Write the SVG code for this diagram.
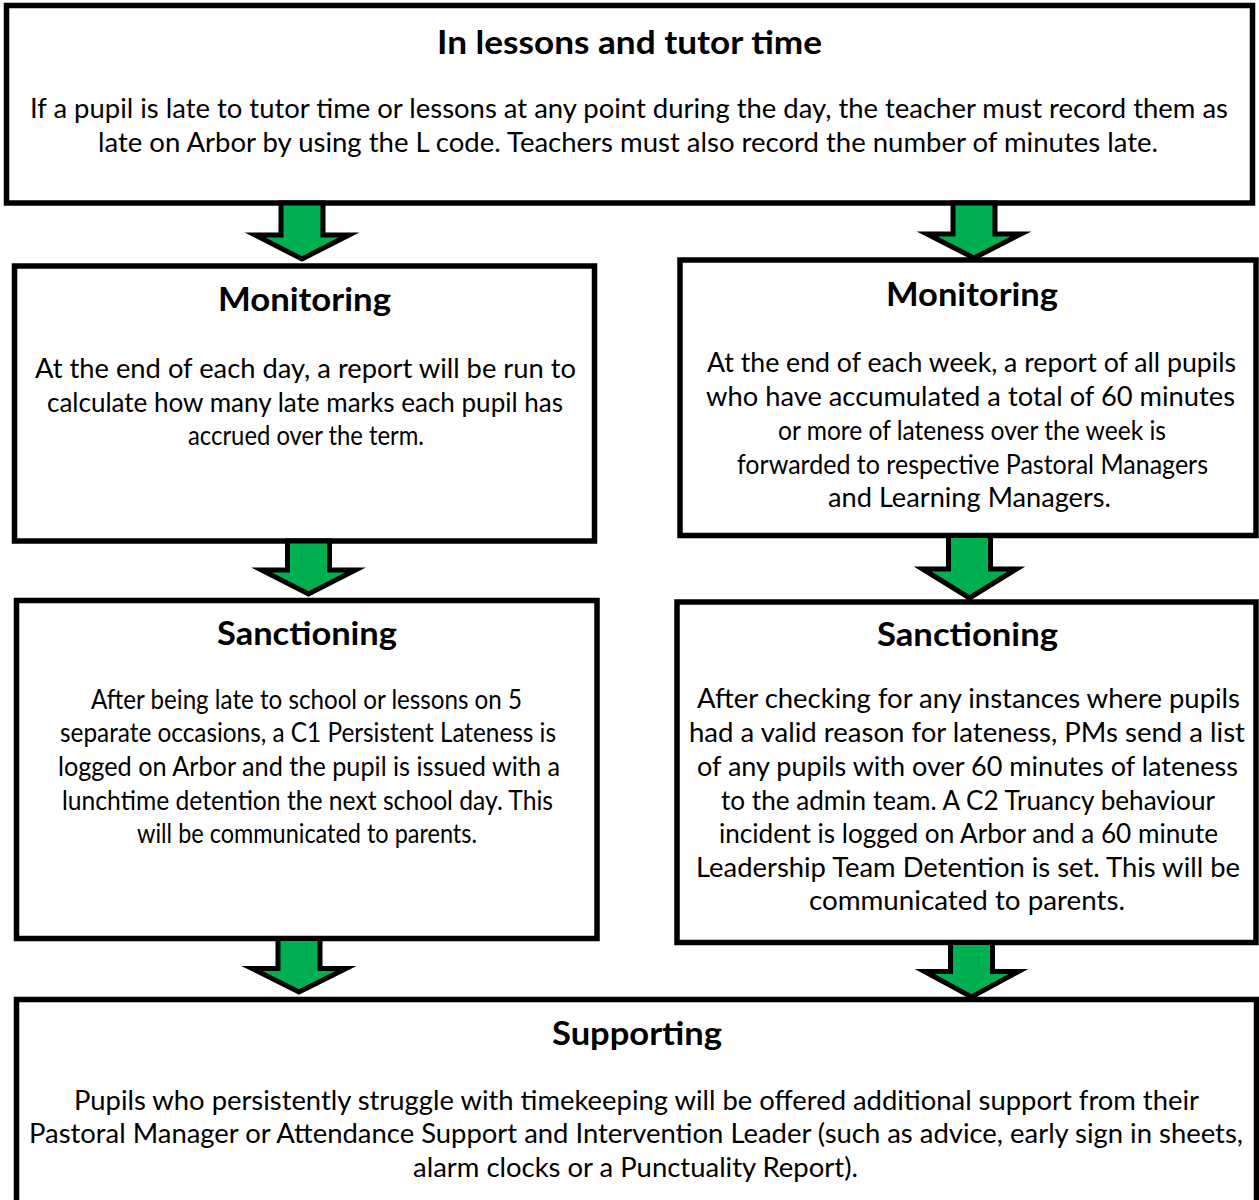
<svg xmlns="http://www.w3.org/2000/svg" width="1259" height="1200" viewBox="0 0 1259 1200">
  <style>
    .box { fill: #ffffff; stroke: #000000; stroke-width: 5.5; }
    .arrow { fill: #00b050; stroke: #000000; stroke-width: 5; stroke-linejoin: miter; stroke-miterlimit: 10; }
    .title { font-family: Lato, "Open Sans", sans-serif; font-weight: 700; font-size: 33px; fill: #000000; text-anchor: middle; }
    .body { font-family: Lato, "Open Sans", sans-serif; font-weight: 400; font-size: 26px; fill: #000000; text-anchor: middle; }
  </style>
  <rect width="1259" height="1200" fill="#ffffff"/>

  <!-- Top box: lessons and tutor time -->
  <g id="node-lessons">
    <rect class="box" x="6.5" y="5.5" width="1246" height="197.5"/>
    <text class="title" x="629.5" y="54" textLength="385" lengthAdjust="spacingAndGlyphs">In lessons and tutor time</text>
    <text class="body" x="629" y="118" textLength="1198" lengthAdjust="spacingAndGlyphs">If a pupil is late to tutor time or lessons at any point during the day, the teacher must record them as</text>
    <text class="body" x="628" y="152" textLength="1060" lengthAdjust="spacingAndGlyphs">late on Arbor by using the L code. Teachers must also record the number of minutes late.</text>
  </g>

  <!-- Daily monitoring -->
  <g id="node-monitoring-daily">
    <rect class="box" x="14.5" y="266" width="580" height="275"/>
    <text class="title" x="304.5" y="311" textLength="173" lengthAdjust="spacingAndGlyphs">Monitoring</text>
    <text class="body" x="305.5" y="378" textLength="541" lengthAdjust="spacingAndGlyphs">At the end of each day, a report will be run to</text>
    <text class="body" x="305" y="412" textLength="516" lengthAdjust="spacingAndGlyphs">calculate how many late marks each pupil has</text>
    <text class="body" x="306" y="445" textLength="236" lengthAdjust="spacingAndGlyphs">accrued over the term.</text>
  </g>

  <!-- Weekly monitoring -->
  <g id="node-monitoring-weekly">
    <rect class="box" x="680" y="260" width="576" height="275.5"/>
    <text class="title" x="972" y="306" textLength="172" lengthAdjust="spacingAndGlyphs">Monitoring</text>
    <text class="body" x="971.5" y="372" textLength="529" lengthAdjust="spacingAndGlyphs">At the end of each week, a report of all pupils</text>
    <text class="body" x="970.5" y="406" textLength="529" lengthAdjust="spacingAndGlyphs">who have accumulated a total of 60 minutes</text>
    <text class="body" x="972" y="440" textLength="388" lengthAdjust="spacingAndGlyphs">or more of lateness over the week is</text>
    <text class="body" x="972.5" y="474" textLength="471" lengthAdjust="spacingAndGlyphs">forwarded to respective Pastoral Managers</text>
    <text class="body" x="969.5" y="507" textLength="283" lengthAdjust="spacingAndGlyphs">and Learning Managers.</text>
  </g>

  <!-- Daily sanctioning -->
  <g id="node-sanctioning-daily">
    <rect class="box" x="16.5" y="600.5" width="580.5" height="338"/>
    <text class="title" x="307" y="645" textLength="180" lengthAdjust="spacingAndGlyphs">Sanctioning</text>
    <text class="body" x="306.5" y="709" textLength="431" lengthAdjust="spacingAndGlyphs">After being late to school or lessons on 5</text>
    <text class="body" x="308" y="742" textLength="496" lengthAdjust="spacingAndGlyphs">separate occasions, a C1 Persistent Lateness is</text>
    <text class="body" x="309" y="776" textLength="502" lengthAdjust="spacingAndGlyphs">logged on Arbor and the pupil is issued with a</text>
    <text class="body" x="307.5" y="810" textLength="491" lengthAdjust="spacingAndGlyphs">lunchtime detention the next school day. This</text>
    <text class="body" x="307" y="843" textLength="340" lengthAdjust="spacingAndGlyphs">will be communicated to parents.</text>
  </g>

  <!-- Weekly sanctioning -->
  <g id="node-sanctioning-weekly">
    <rect class="box" x="677" y="602" width="579" height="340.5"/>
    <text class="title" x="967.5" y="646" textLength="181" lengthAdjust="spacingAndGlyphs">Sanctioning</text>
    <text class="body" x="968.5" y="708" textLength="543" lengthAdjust="spacingAndGlyphs">After checking for any instances where pupils</text>
    <text class="body" x="967" y="742" textLength="556" lengthAdjust="spacingAndGlyphs">had a valid reason for lateness, PMs send a list</text>
    <text class="body" x="967.5" y="776" textLength="541" lengthAdjust="spacingAndGlyphs">of any pupils with over 60 minutes of lateness</text>
    <text class="body" x="968" y="810" textLength="494" lengthAdjust="spacingAndGlyphs">to the admin team. A C2 Truancy behaviour</text>
    <text class="body" x="968.5" y="843" textLength="499" lengthAdjust="spacingAndGlyphs">incident is logged on Arbor and a 60 minute</text>
    <text class="body" x="968" y="877" textLength="544" lengthAdjust="spacingAndGlyphs">Leadership Team Detention is set. This will be</text>
    <text class="body" x="967" y="910" textLength="316" lengthAdjust="spacingAndGlyphs">communicated to parents.</text>
  </g>

  <!-- Supporting -->
  <g id="node-supporting">
    <rect class="box" x="16.5" y="999.5" width="1240" height="215"/>
    <text class="title" x="637" y="1045" textLength="170" lengthAdjust="spacingAndGlyphs">Supporting</text>
    <text class="body" x="636.5" y="1110" textLength="1125" lengthAdjust="spacingAndGlyphs">Pupils who persistently struggle with timekeeping will be offered additional support from their</text>
    <text class="body" x="636" y="1143" textLength="1214" lengthAdjust="spacingAndGlyphs">Pastoral Manager or Attendance Support and Intervention Leader (such as advice, early sign in sheets,</text>
    <text class="body" x="635.5" y="1177" textLength="445" lengthAdjust="spacingAndGlyphs">alarm clocks or a Punctuality Report).</text>
  </g>

  <!-- Block arrows between stages -->
  <g id="connectors">
    <path class="arrow" d="M281 203 H323 V235 H349 L302 259 L255 235 H281 Z"/>
    <path class="arrow" d="M953 203 H995 V234 H1021 L974 258 L927 234 H953 Z"/>
    <path class="arrow" d="M287.5 541 H329.5 V570 H355.5 L308.5 594 L261.5 570 H287.5 Z"/>
    <path class="arrow" d="M948.5 535.5 H990.5 V569 H1016.5 L969.5 598 L922.5 569 H948.5 Z"/>
    <path class="arrow" d="M278 938.5 H320 V968.5 H346 L299 992 L252 968.5 H278 Z"/>
    <path class="arrow" d="M950.5 942.5 H992.5 V971.5 H1018.5 L971.5 997 L924.5 971.5 H950.5 Z"/>
  </g>
</svg>
